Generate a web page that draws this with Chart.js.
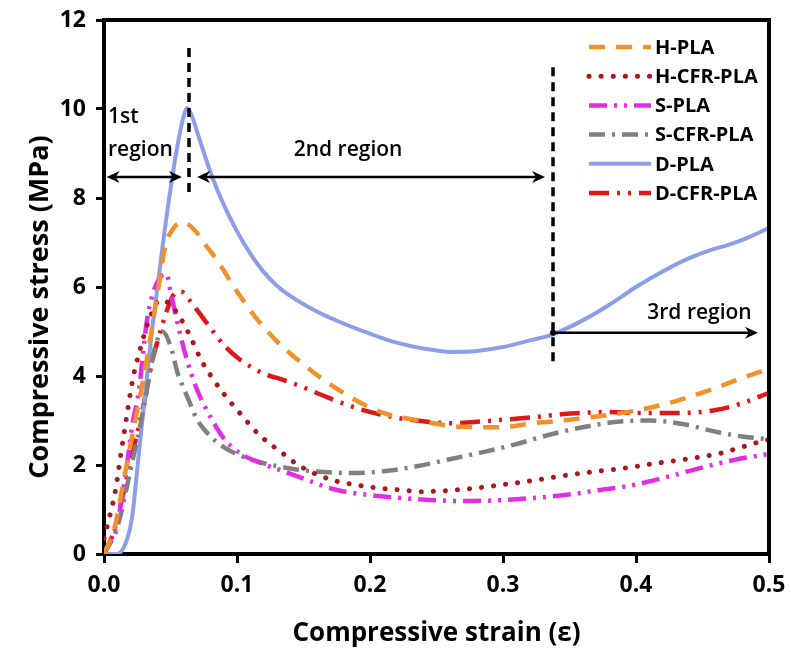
<!DOCTYPE html>
<html lang="en">
<head>
  <meta charset="UTF-8" />
  <title>Compressive stress-strain curves</title>
  <script src="https://cdn.jsdelivr.net/npm/chart.js"></script>
  <style>
    body {
      margin: 0;
      background: #fff;
    }

    .wrap {
      width: 791px;
      height: 650px;
    }
  </style>
</head>
<body>
  <div class="wrap">
    <canvas id="ssChart" width="791" height="650"></canvas>
  </div>

  <script>
    // values (strain, stress in MPa)
    const hPlaStrain = [0, 0.008, 0.0135, 0.021, 0.03, 0.04, 0.046, 0.053, 0.06, 0.068, 0.077, 0.085, 0.1, 0.115, 0.13, 0.147, 0.162, 0.185, 0.21, 0.235, 0.268, 0.298, 0.323, 0.348, 0.378, 0.403, 0.428, 0.456, 0.486, 0.5];
    const hPlaStress = [0, 0.6, 1.44, 2.63, 4.0, 5.8, 6.9, 7.35, 7.45, 7.28, 6.92, 6.6, 5.9, 5.28, 4.78, 4.33, 3.98, 3.53, 3.17, 3.01, 2.86, 2.85, 2.94, 3.01, 3.12, 3.24, 3.42, 3.69, 4.02, 4.15];

    const hCfrStrain = [0, 0.003, 0.008, 0.0145, 0.022, 0.027, 0.035, 0.042, 0.048, 0.056, 0.065, 0.073, 0.08, 0.09, 0.102, 0.117, 0.134, 0.147, 0.172, 0.19, 0.207, 0.223, 0.238, 0.255, 0.273, 0.29, 0.305, 0.318, 0.333, 0.35, 0.368, 0.386, 0.398, 0.413, 0.43, 0.446, 0.463, 0.476, 0.493, 0.5];
    const hCfrStress = [0.35, 0.7, 1.33, 2.6, 3.98, 4.58, 5.35, 5.7, 5.65, 5.37, 4.88, 4.36, 4.02, 3.6, 3.17, 2.67, 2.27, 1.98, 1.66, 1.55, 1.48, 1.44, 1.4, 1.42, 1.46, 1.52, 1.58, 1.63, 1.7, 1.78, 1.85, 1.91, 1.96, 2.03, 2.1, 2.17, 2.26, 2.37, 2.52, 2.57];

    const sPlaStrain = [0, 0.0103, 0.016, 0.021, 0.026, 0.032, 0.036, 0.042, 0.047, 0.05, 0.056, 0.062, 0.07, 0.08, 0.09, 0.102, 0.12, 0.135, 0.147, 0.172, 0.198, 0.223, 0.247, 0.273, 0.298, 0.323, 0.348, 0.373, 0.398, 0.423, 0.448, 0.473, 0.5];
    const sPlaStress = [0, 0.76, 1.73, 2.85, 3.62, 5.19, 5.78, 6.2, 6.3, 5.9, 5.1, 4.4, 3.69, 3.08, 2.6, 2.27, 2.02, 1.86, 1.73, 1.46, 1.33, 1.26, 1.21, 1.19, 1.21, 1.26, 1.33, 1.44, 1.55, 1.73, 1.93, 2.11, 2.25];

    const sCfrStrain = [0, 0.01, 0.02, 0.03, 0.038, 0.044, 0.051, 0.055, 0.06, 0.065, 0.07, 0.077, 0.09, 0.105, 0.12, 0.135, 0.15, 0.185, 0.21, 0.235, 0.26, 0.285, 0.31, 0.335, 0.36, 0.386, 0.41, 0.435, 0.461, 0.48, 0.5];
    const sCfrStress = [0, 0.6, 1.9, 3.3, 4.6, 5.0, 4.58, 4.1, 3.72, 3.36, 3.02, 2.74, 2.4, 2.18, 2.04, 1.95, 1.88, 1.82, 1.86, 1.97, 2.13, 2.29, 2.47, 2.68, 2.85, 2.97, 3.0, 2.92, 2.74, 2.64, 2.58];

    const dPlaStrain = [0, 0.01, 0.017, 0.021, 0.026, 0.032, 0.036, 0.04, 0.044, 0.048, 0.052, 0.056, 0.06, 0.0624, 0.066, 0.072, 0.081, 0.09, 0.1, 0.11, 0.12, 0.13, 0.14, 0.16, 0.18, 0.2, 0.22, 0.24, 0.262, 0.28, 0.3, 0.32, 0.337, 0.36, 0.38, 0.4, 0.42, 0.44, 0.456, 0.47, 0.485, 0.5];
    const dPlaStress = [0, 0, 0.3, 0.8, 2.2, 3.9, 5.0, 5.95, 6.9, 7.8, 8.6, 9.3, 9.85, 10.02, 9.85, 9.3, 8.5, 7.85, 7.25, 6.75, 6.34, 6.03, 5.8, 5.45, 5.18, 4.95, 4.75, 4.62, 4.54, 4.56, 4.65, 4.8, 4.93, 5.25, 5.6, 6.0, 6.35, 6.65, 6.83, 6.95, 7.12, 7.33];

    const dCfrStrain = [0, 0.007, 0.018, 0.022, 0.029, 0.037, 0.04, 0.047, 0.053, 0.058, 0.063, 0.072, 0.08, 0.09, 0.1, 0.112, 0.122, 0.134, 0.147, 0.168, 0.192, 0.217, 0.243, 0.262, 0.288, 0.318, 0.348, 0.378, 0.403, 0.435, 0.461, 0.48, 0.5];
    const dCfrStress = [0, 0.47, 1.82, 2.34, 3.24, 4.43, 4.75, 5.45, 5.85, 5.9, 5.75, 5.4, 5.08, 4.7, 4.42, 4.18, 4.03, 3.92, 3.78, 3.52, 3.26, 3.08, 2.97, 2.94, 2.99, 3.06, 3.15, 3.19, 3.17, 3.17, 3.24, 3.39, 3.62];

    const xTicks = [0, 0.1, 0.2, 0.3, 0.4, 0.5];
    const yTicks = [0, 2, 4, 6, 8, 10, 12];

    // region markers (strain, stress)
    const dividerStrain = [0.0639, 0.3376];
    const dividerTop = [11.37, 10.94];
    const dividerBottom = [8.02, 4.29];
    const arrowRows = [
      { from: 0.002, to: 0.0586, y: 8.47, both: true },
      { from: 0.07, to: 0.3316, y: 8.47, both: true },
      { from: 0.3376, to: 0.4917, y: 4.97, both: false }
    ];
    const regionLabels = [
      { text: '1st', x: 0.003, y: 9.82, align: 'left' },
      { text: 'region', x: 0.003, y: 9.08, align: 'left' },
      { text: '2nd region', x: 0.1835, y: 9.08, align: 'center' },
      { text: '3rd region', x: 0.487, y: 5.42, align: 'right' }
    ];

    const xTitle = 'Compressive strain (\u03b5)';
    const yTitle = 'Compressive stress (MPa)';

    function pts(xs, ys) {
      return xs.map((x, i) => ({ x: x, y: ys[i] }));
    }

    // stop the tick labels from pushing the plot area around
    function pinPadding(axis) {
      axis.paddingLeft = 0;
      axis.paddingRight = 0;
      axis.paddingTop = 0;
      axis.paddingBottom = 0;
    }

    const FONT = "'Open Sans', sans-serif";

    const regionPlugin = {
      id: 'regions',
      afterDatasetsDraw(chart) {
        const ctx = chart.ctx;
        const xs = chart.scales.x;
        const ys = chart.scales.y;
        ctx.save();
        ctx.strokeStyle = '#000';
        ctx.fillStyle = '#000';

        // dashed dividers
        ctx.lineWidth = 3.5;
        ctx.setLineDash([9, 6]);
        dividerStrain.forEach((s, i) => {
          const px = xs.getPixelForValue(s);
          ctx.beginPath();
          ctx.moveTo(px, ys.getPixelForValue(dividerTop[i]));
          ctx.lineTo(px, ys.getPixelForValue(dividerBottom[i]));
          ctx.stroke();
        });
        ctx.setLineDash([]);

        // arrows
        const head = (x, y, dir) => {
          ctx.beginPath();
          ctx.moveTo(x, y);
          ctx.lineTo(x - dir * 13, y - 6);
          ctx.lineTo(x - dir * 9, y);
          ctx.lineTo(x - dir * 13, y + 6);
          ctx.closePath();
          ctx.fill();
        };
        ctx.lineWidth = 2.5;
        arrowRows.forEach(a => {
          const x1 = xs.getPixelForValue(a.from);
          const x2 = xs.getPixelForValue(a.to);
          const py = ys.getPixelForValue(a.y);
          ctx.beginPath();
          ctx.moveTo(a.both ? x1 + 8 : x1, py);
          ctx.lineTo(x2 - 8, py);
          ctx.stroke();
          head(x2, py, 1);
          if (a.both) {
            head(x1, py, -1);
          } else {
            ctx.beginPath();
            ctx.arc(x1, py, 3, 0, Math.PI * 2);
            ctx.fill();
          }
        });

        // labels
        ctx.font = '600 21px ' + FONT;
        ctx.textBaseline = 'middle';
        regionLabels.forEach(l => {
          ctx.textAlign = l.align;
          ctx.fillText(l.text, xs.getPixelForValue(l.x), ys.getPixelForValue(l.y));
        });
        ctx.restore();
      },
      afterDraw(chart) {
        const ctx = chart.ctx;
        const area = chart.chartArea;
        ctx.save();
        // top and right frame
        ctx.strokeStyle = '#000';
        ctx.lineWidth = 4;
        ctx.beginPath();
        ctx.moveTo(area.left - 2, area.top);
        ctx.lineTo(area.right, area.top);
        ctx.lineTo(area.right, area.bottom + 2);
        ctx.stroke();

        // axis titles
        ctx.fillStyle = '#000';
        ctx.textAlign = 'center';
        ctx.textBaseline = 'middle';
        ctx.font = 'bold 26px ' + FONT;
        ctx.fillText(xTitle, (area.left + area.right) / 2, area.bottom + 80);
        ctx.save();
        ctx.translate(area.left - 64, (area.top + area.bottom) / 2 + 20);
        ctx.rotate(-Math.PI / 2);
        ctx.font = 'bold 27px ' + FONT;
        ctx.fillText(yTitle, 0, 0);
        ctx.restore();

        // legend inside plot, top right
        const lx = area.right - 180;
        const ly = area.top + 27;
        ctx.font = 'bold 20px ' + FONT;
        ctx.textBaseline = 'middle';
        ctx.textAlign = 'left';
        chart.data.datasets.forEach((ds, i) => {
          const y = ly + i * 29.2;
          ctx.strokeStyle = ds.borderColor;
          ctx.lineWidth = ds.borderWidth;
          ctx.lineCap = ds.borderCapStyle || 'butt';
          ctx.setLineDash(ds.borderDash || []);
          ctx.beginPath();
          ctx.moveTo(lx, y);
          ctx.lineTo(lx + 62, y);
          ctx.stroke();
          ctx.setLineDash([]);
          ctx.fillStyle = '#000';
          ctx.fillText(ds.label, lx + 66, y + 1);
        });
        ctx.restore();
      }
    };

    new Chart(document.getElementById('ssChart'), {
      type: 'line',
      data: {
        datasets: [
          {
            label: 'H-PLA',
            data: pts(hPlaStrain, hPlaStress),
            borderColor: '#f0922c',
            borderWidth: 4.5,
            borderDash: [16, 11]
          },
          {
            label: 'H-CFR-PLA',
            data: pts(hCfrStrain, hCfrStress),
            borderColor: '#a8191c',
            borderWidth: 5,
            borderDash: [0.1, 12],
            borderCapStyle: 'round'
          },
          {
            label: 'S-PLA',
            data: pts(sPlaStrain, sPlaStress),
            borderColor: '#e22ee2',
            borderWidth: 4.5,
            borderDash: [18, 7, 3, 7, 3, 7]
          },
          {
            label: 'S-CFR-PLA',
            data: pts(sCfrStrain, sCfrStress),
            borderColor: '#808080',
            borderWidth: 4.5,
            borderDash: [16, 7, 3, 7]
          },
          {
            label: 'D-PLA',
            data: pts(dPlaStrain, dPlaStress),
            borderColor: '#8c9ee8',
            borderWidth: 4,
            borderDash: []
          },
          {
            label: 'D-CFR-PLA',
            data: pts(dCfrStrain, dCfrStress),
            borderColor: '#e0171a',
            borderWidth: 4.5,
            borderDash: [20, 8, 3, 8, 3, 8]
          }
        ]
      },
      options: {
        responsive: false,
        animation: false,
        events: [],
        layout: {
          padding: { top: 20, right: 22, left: 0, bottom: 0 }
        },
        elements: {
          point: { radius: 0 },
          line: { cubicInterpolationMode: 'monotone' }
        },
        plugins: {
          legend: { display: false },
          tooltip: { enabled: false }
        },
        scales: {
          x: {
            type: 'linear',
            min: 0,
            max: 0.5,
            afterBuildTicks: axis => { axis.ticks = xTicks.map(v => ({ value: v })); },
            afterFit: axis => { axis.height = 96; pinPadding(axis); },
            border: { color: '#000', width: 4 },
            grid: { drawOnChartArea: false, color: '#000', lineWidth: 3, tickLength: 9 },
            ticks: {
              color: '#000',
              padding: 9,
              font: { family: FONT, size: 23, weight: 'bold' },
              callback: v => v.toFixed(1)
            }
          },
          y: {
            min: 0,
            max: 12,
            afterBuildTicks: axis => { axis.ticks = yTicks.map(v => ({ value: v })); },
            afterFit: axis => { axis.width = 104; pinPadding(axis); },
            border: { color: '#000', width: 4 },
            grid: { drawOnChartArea: false, color: '#000', lineWidth: 3, tickLength: 8 },
            ticks: {
              color: '#000',
              padding: 10,
              font: { family: FONT, size: 23, weight: 'bold' }
            }
          }
        }
      },
      plugins: [regionPlugin]
    });
  </script>
</body>
</html>
